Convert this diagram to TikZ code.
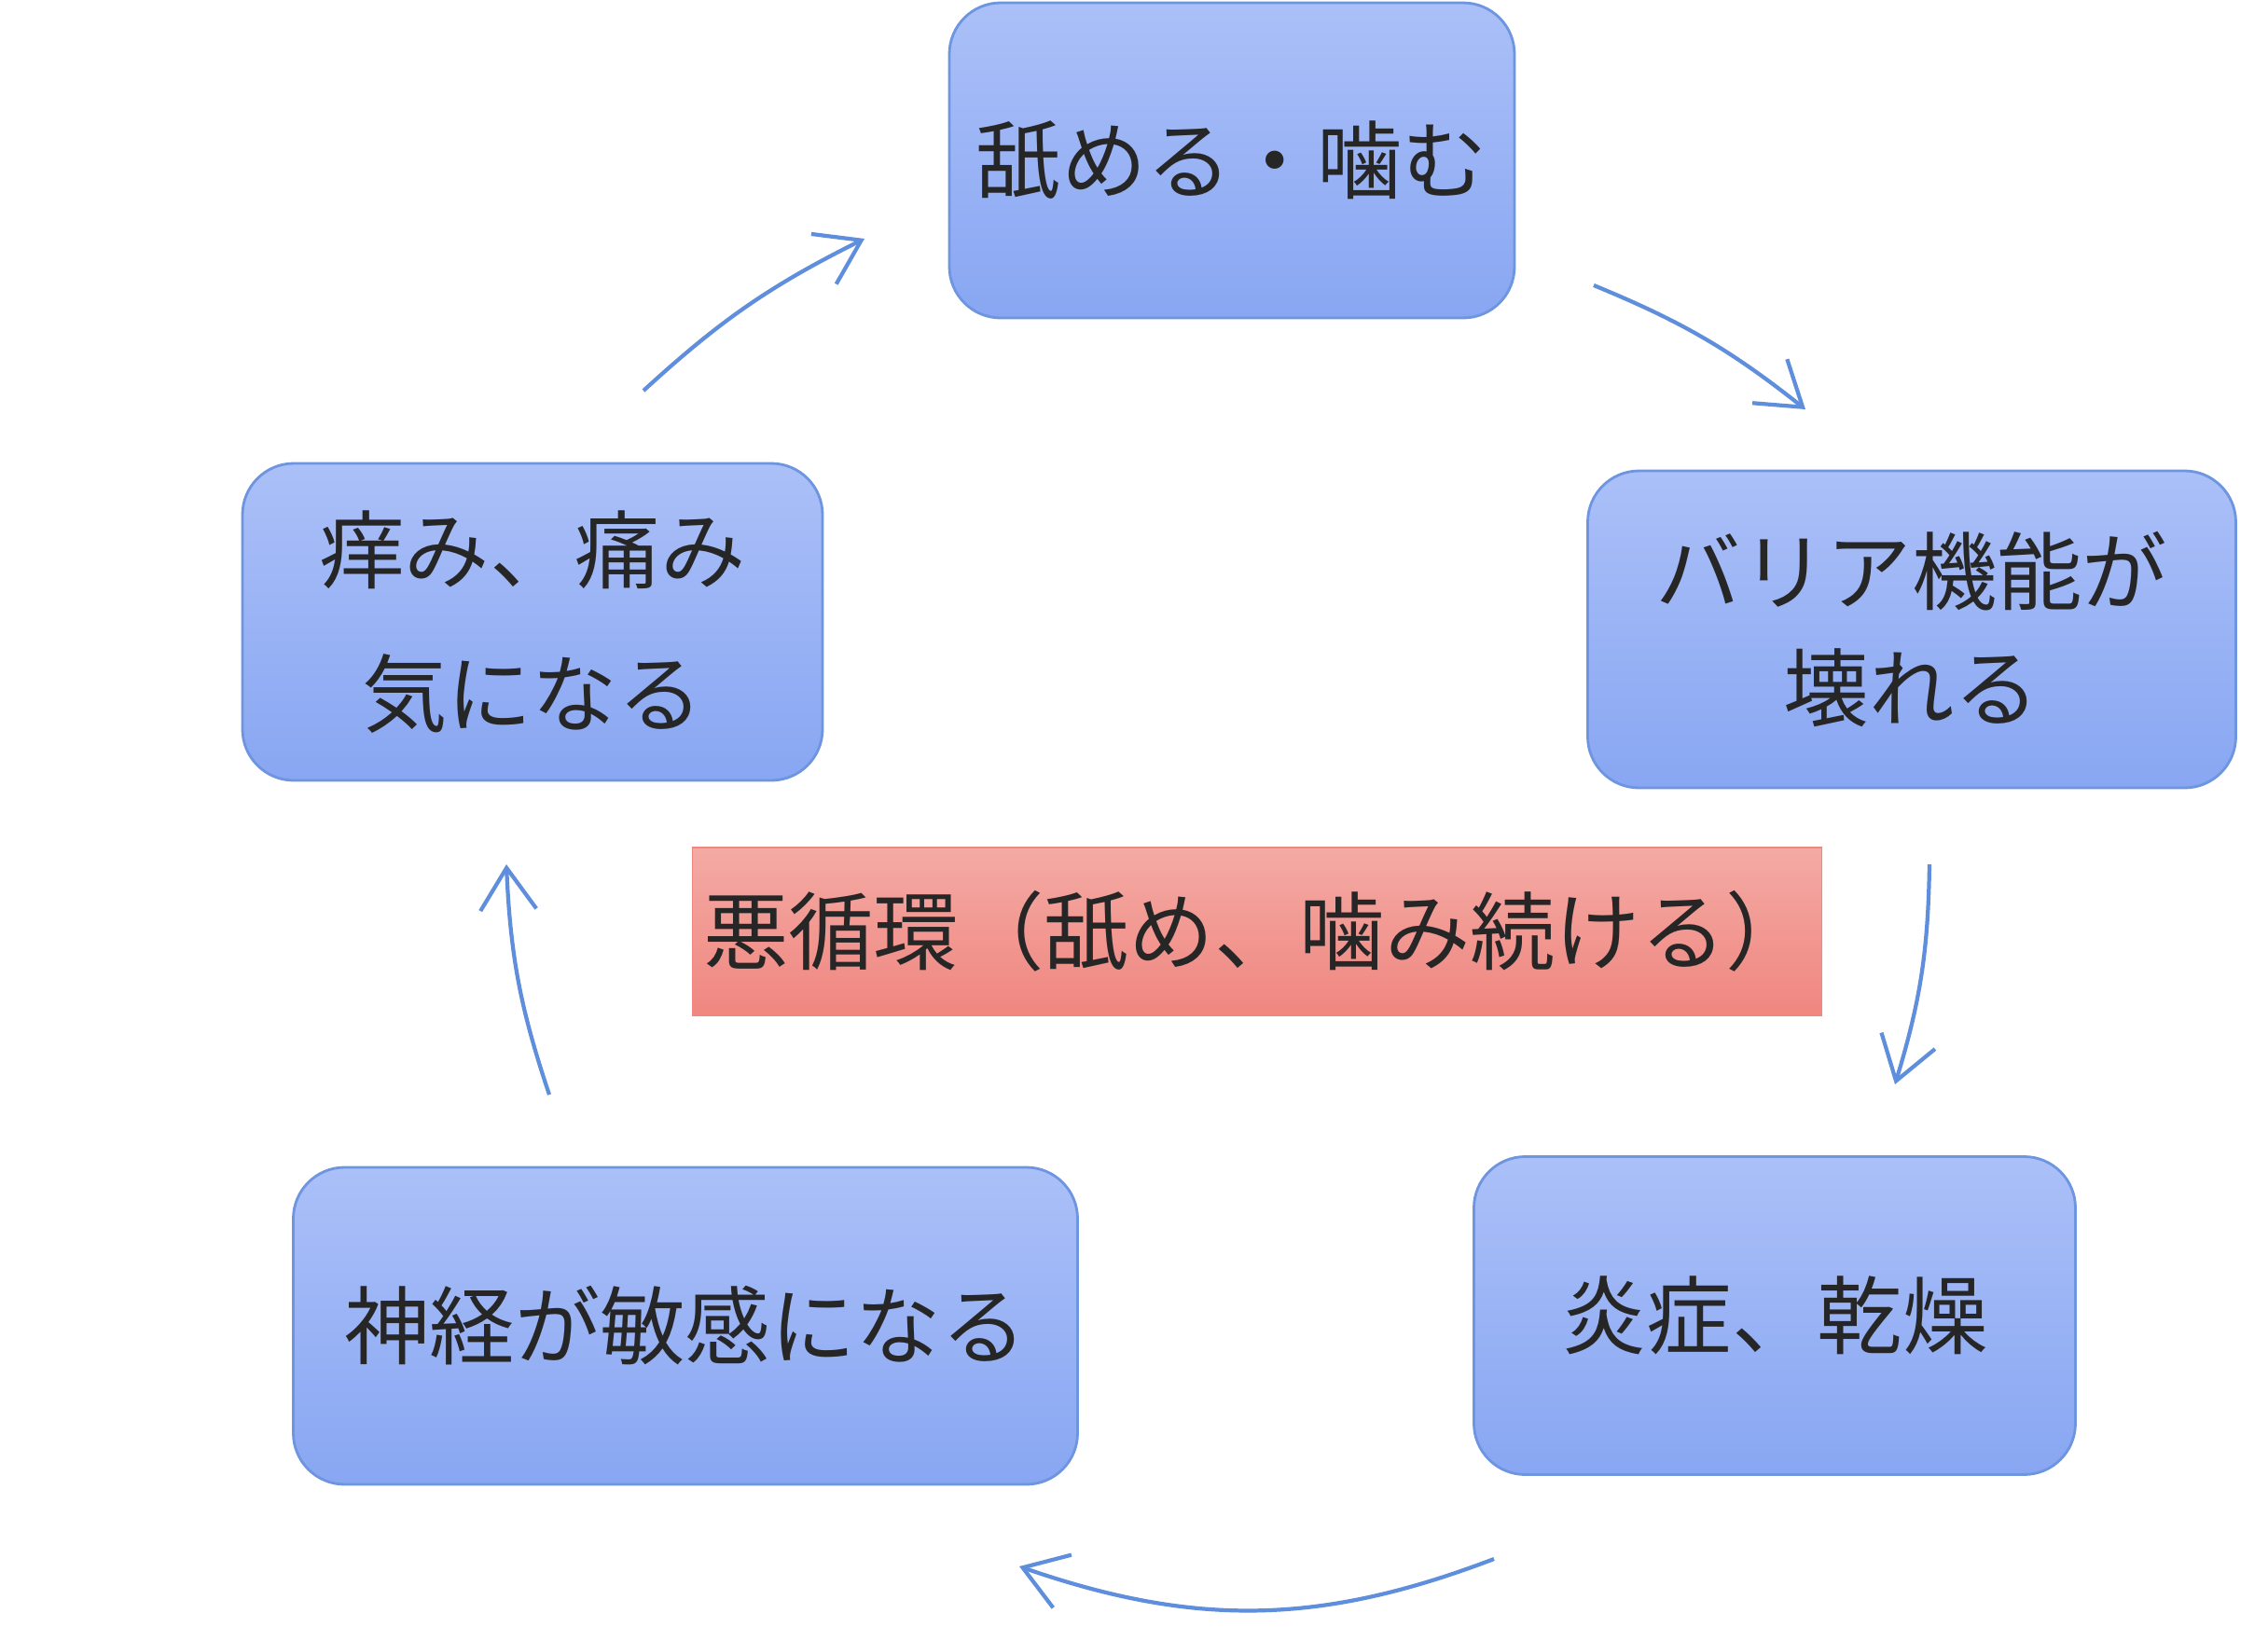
\documentclass[tikz,border=0pt]{standalone}
\usepackage{fontspec}
\newfontfamily\cjk{Noto Sans CJK JP}
\usetikzlibrary{arrows.meta}
\definecolor{boxtop}{HTML}{ABC0F8}
\definecolor{boxbot}{HTML}{88A6F2}
\definecolor{boxline}{HTML}{6E95E0}
\definecolor{redtop}{HTML}{F4AAA4}
\definecolor{redbot}{HTML}{F08680}
\definecolor{arrowc}{HTML}{5F8EDC}
\tikzset{
  stage/.style={draw=boxline,thick,rounded corners=0.55cm,top color=boxtop,bottom color=boxbot,
    align=center,font=\cjk\fontsize{26}{44}\selectfont,text=black!85},
  cycle/.style={draw=arrowc,line width=1.2pt,-{Straight Barb[length=0.45cm,width=0.6cm]}}
}
\begin{document}
\begin{tikzpicture}
  \useasboundingbox[fill=white] (0,0) rectangle (24.32,-17.6);

  \node[stage,minimum width=6.06cm,minimum height=3.38cm] (lick) at (13.21,-1.72) {舐める・噛む};
  \node[stage,minimum width=6.95cm,minimum height=3.4cm] (barrier) at (20.5,-6.75) {バリア機能が\\[-0.3cm]壊れる};
  \node[stage,minimum width=6.45cm,minimum height=3.41cm] (inflam) at (19.03,-14.11) {炎症、乾燥};
  \node[stage,minimum width=8.41cm,minimum height=3.4cm] (nerve) at (7.35,-14.22) {神経が敏感になる};
  \node[stage,minimum width=6.22cm,minimum height=3.4cm] (itch) at (5.71,-6.67) {痒み、痛み\\気になる};

  \node[draw=redbot,top color=redtop,bottom color=redbot,minimum width=11.51cm,minimum height=1.8cm,
    font=\cjk\fontsize{26}{30}\selectfont,text=black!85] (loop) at (13.48,-9.99) {悪循環（舐め、噛み続ける）};

  % arrows around the loop
  \coordinate (a1) at (6.9,-4.19);   \coordinate (b1) at (9.27,-2.56);
  \coordinate (a2) at (17.09,-3.06); \coordinate (b2) at (19.36,-4.39);
  \coordinate (a3) at (20.69,-9.27); \coordinate (b3) at (20.32,-11.63);
  \coordinate (a4) at (16.02,-16.72); \coordinate (b4) at (10.93,-16.8);
  \coordinate (a5) at (5.89,-11.74); \coordinate (b5) at (5.43,-9.27);

  \draw[cycle] (a1) to[bend left=8] (b1);
  \draw[cycle] (a2) to[bend left=8] (b2);
  \draw[cycle] (a3) to[bend left=8] (b3);
  \draw[cycle] (a4) to[bend left=20] (b4);
  \draw[cycle] (a5) to[bend left=8] (b5);
\end{tikzpicture}
\end{document}
